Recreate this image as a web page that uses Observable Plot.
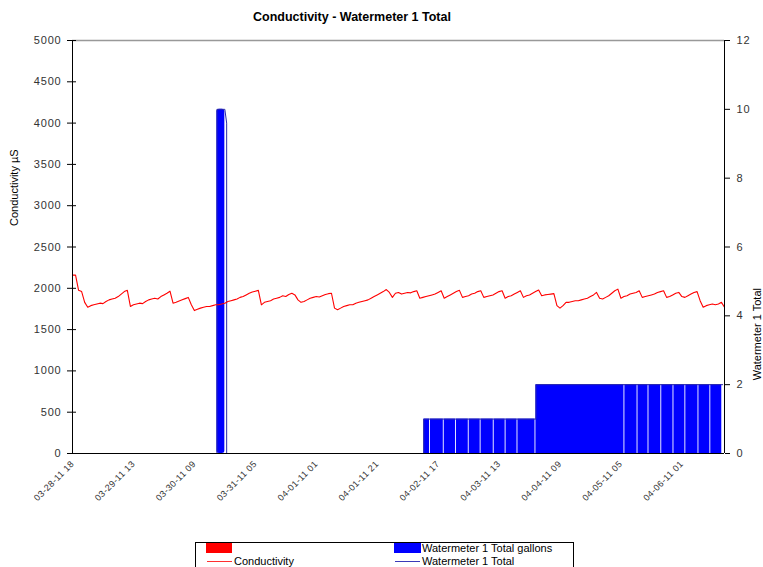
<!DOCTYPE html>
<html>
<head>
<meta charset="utf-8">
<script src="https://cdn.jsdelivr.net/npm/d3@7"></script>
<script src="https://cdn.jsdelivr.net/npm/@observablehq/plot@0.6"></script>
<style>
  html, body { margin: 0; padding: 0; background: #fff; }
  #wrap { position: relative; width: 763px; height: 567px; overflow: hidden; font-family: "Liberation Sans", Arial, sans-serif; }
  #plot { position: absolute; left: 0; top: 0; }
  #title { position: absolute; left: 0; top: 10px; width: 704px; text-align: center; font-weight: bold; font-size: 12.5px; line-height: 15px; color: #000; }
  #legend { position: absolute; left: 195px; top: 542px; width: 377px; height: 40px; border: 1px solid #000; background: #fff; font-size: 11px; color: #000; }
  #legend .sw { position: absolute; }
  #legend .tx { position: absolute; white-space: nowrap; line-height: 12px; }
  g[aria-label="y-axis tick label"] text { letter-spacing: 0.8px; }
  g[aria-label="x-axis tick label"] text { letter-spacing: 0.4px; }
</style>
</head>
<body>
<div id="wrap">
  <div id="plot"></div>
  <div id="title">Conductivity - Watermeter 1 Total</div>
  <div id="legend">
    <div class="sw" style="left:10px;top:0px;width:26px;height:10px;background:#ff0000"></div>
    <div class="sw" style="left:198px;top:0px;width:27px;height:10px;background:#0000ff"></div>
    <div class="tx" style="left:226px;top:-1px;">Watermeter 1 Total gallons</div>
    <div class="sw" style="left:11px;top:18px;width:25px;height:1px;background:#ff3030"></div>
    <div class="tx" style="left:38px;top:12px;">Conductivity</div>
    <div class="sw" style="left:199px;top:18px;width:25px;height:1px;background:#3a3ab8"></div>
    <div class="tx" style="left:226px;top:12px;">Watermeter 1 Total</div>
  </div>
</div>
<script>
// ---- data ----
// x axis category labels (every 20 hourly samples)
const xTickHours = [0, 20, 40, 60, 80, 100, 120, 140, 160, 180, 200];
const xTickLabels = ["03-28-11 18", "03-29-11 13", "03-30-11 09", "03-31-11 05", "04-01-11 01",
  "04-01-11 21", "04-02-11 17", "04-03-11 13", "04-04-11 09", "04-05-11 05", "04-06-11 01"];
const leftTicks = [0, 500, 1000, 1500, 2000, 2500, 3000, 3500, 4000, 4500, 5000];
const rightTicks = [0, 2, 4, 6, 8, 10, 12];

// conductivity (µS), hourly samples
const condValues = [
  2160, 2160, 1975, 1960, 1830, 1770, 1790, 1800, 1810, 1820, 1815, 1840, 1860, 1870, 1880, 1900, 1930, 1960, 1975,
  1780, 1800, 1810, 1820, 1815, 1840, 1860, 1870, 1880, 1870, 1900, 1920, 1940, 1965, 1820, 1830, 1845, 1860, 1875, 1890, 1800, 1730,
  1745, 1760, 1770, 1780, 1780, 1790, 1800, 1800, 1810, 1820, 1840, 1850, 1860, 1870, 1890, 1900, 1920, 1940, 1955, 1965, 1975,
  1800, 1830, 1840, 1850, 1870, 1880, 1890, 1910, 1900, 1925, 1940, 1920, 1860, 1830, 1840, 1860, 1880, 1890, 1900, 1895, 1910, 1925, 1935, 1940, 1760, 1740,
  1760, 1780, 1790, 1800, 1800, 1820, 1830, 1840, 1850, 1860, 1880, 1900, 1920, 1940, 1960, 1985, 1950, 1890, 1940, 1950,
  1930, 1940, 1950, 1945, 1960, 1970, 1880, 1890, 1900, 1910, 1920, 1930, 1950, 1970, 1880, 1900, 1920, 1940, 1960, 1975,
  1890, 1900, 1910, 1930, 1940, 1960, 1970, 1890, 1900, 1910, 1920, 1940, 1960, 1970, 1880, 1900, 1910, 1930, 1950, 1970,
  1890, 1910, 1920, 1940, 1960, 1980, 1910, 1920, 1925, 1930, 1935,
  1790, 1760, 1790, 1830, 1830, 1840, 1850, 1850, 1860, 1870, 1880, 1900, 1920, 1950, 1880, 1870, 1890, 1910, 1940, 1970,
  1990, 1880, 1900, 1910, 1930, 1940, 1950, 1970, 1890, 1900, 1910, 1920, 1930, 1950, 1960, 1970, 1890, 1900, 1920, 1940,
  1950, 1900, 1890, 1910, 1930, 1950, 1960, 1850, 1770, 1790, 1800, 1810, 1800, 1810, 1830, 1770
];

// Watermeter 1 Total gallons (bars): start hour, end hour, gallons
const galStart = [47.4, 115.3, 117.5, 122, 126, 130.2, 134.1, 138.4, 142.3, 146.2, 152.1, 181.3, 185.6, 189.2, 193.4, 197.4, 201.3, 205.6, 209.5];
const galEnd   = [50.0, 117.5, 122, 126, 130.2, 134.1, 138.4, 142.3, 146.2, 152.1, 181.3, 185.6, 189.2, 193.4, 197.4, 201.3, 205.6, 209.5, 213.4];
const galValue = [10, 1, 1, 1, 1, 1, 1, 1, 1, 1, 2, 2, 2, 2, 2, 2, 2, 2, 2];

// Watermeter 1 Total (line)
const totalHours  = [0, 47.4, 47.4, 50.0, 50.6, 50.6, 115.3, 115.3, 152.1, 152.1, 213.4];
const totalValues = [0, 0, 10, 10, 9.6, 0, 0, 1, 1, 2, 2];

// ---- build ----
const k = 5000 / 12; // right axis (gallons) -> left axis units
const cond = condValues.map((v, i) => ({h: i, v}));
const bars = galStart.map((s, i) => ({s, e: galEnd[i], v: galValue[i] * k}));
const total = totalHours.map((h, i) => ({h, v: totalValues[i] * k}));

const chart = Plot.plot({
  width: 763,
  height: 540,
  marginLeft: 72,
  marginRight: 39,
  marginTop: 40,
  marginBottom: 87,
  style: {fontFamily: "'Liberation Sans', Arial, sans-serif", fontSize: "11px", color: "#333", background: "transparent", overflow: "visible"},
  x: {domain: [0, 214]},
  y: {domain: [0, 5000]},
  marks: [
    Plot.rectY(bars, {filter: d => d.v > 5 * k, x1: "s", x2: "e", y: "v", fill: "#0000ff", rx: 2.5}),
    Plot.rectY(bars, {filter: d => d.v <= 5 * k, x1: "s", x2: "e", y: "v", fill: "#0000ff", insetRight: 0.9}),
    Plot.line(total, {x: "h", y: "v", stroke: "#2a2aa8", strokeWidth: 1}),
    Plot.line(cond, {x: "h", y: "v", stroke: "#ff0000", strokeWidth: 1.1}),
    Plot.ruleY([5000], {stroke: "#999", strokeWidth: 1.3}),
    Plot.ruleY([0], {stroke: "#000"}),
    Plot.ruleX([0], {stroke: "#000"}),
    Plot.ruleX([214], {stroke: "#000"}),
    Plot.axisY({anchor: "left", ticks: leftTicks, tickSize: 5, tickPadding: 6, tickFormat: d => String(d), label: null, stroke: "#000"}),
    Plot.axisY({anchor: "left", ticks: leftTicks, tickSize: -4, tickFormat: () => "", label: null, stroke: "#000"}),
    Plot.axisY({anchor: "right", ticks: rightTicks.map(v => v * k), tickSize: 5, tickPadding: 7, tickFormat: d => String(Math.round(d / k)), label: null, stroke: "#000"}),
    Plot.axisX({ticks: xTickHours, tickFormat: d => xTickLabels[xTickHours.indexOf(d)], tickRotate: -45, tickSize: 0, tickPadding: 9, fontSize: 9, label: null}),
    Plot.text(["Conductivity µS"], {frameAnchor: "left", dx: -58, dy: -21, rotate: -90, fontSize: 11, fill: "#000"}),
    Plot.text(["Watermeter 1 Total"], {frameAnchor: "right", dx: 33, dy: 41, rotate: -90, fontSize: 11, fill: "#000"})
  ]
});
document.getElementById("plot").appendChild(chart);
</script>
</body>
</html>
